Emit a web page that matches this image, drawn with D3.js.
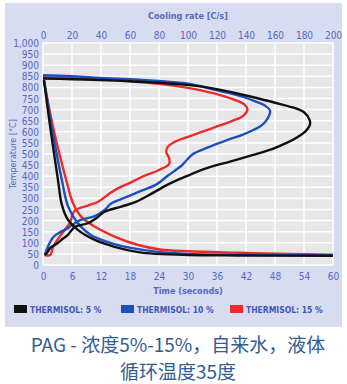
<!DOCTYPE html>
<html>
<head>
<meta charset="utf-8">
<script src="https://cdn.jsdelivr.net/npm/d3@7"></script>
<style>
  body { margin: 0; background: #fff; }
  svg { display: block; }
</style>
</head>
<body>
<svg id="chart" width="347" height="384"></svg>
<script>
// tick labels
const tempTicks = d3.range(0, 1001, 50);
const rateTicks = d3.range(0, 201, 20);
const timeTicks = d3.range(0, 61, 6);

// series names
const seriesNames = ['THERMISOL: 5 %', 'THERMISOL: 10 %', 'THERMISOL: 15 %'];
const seriesColors = ['#111111', '#1d4fbf', '#ee2b2b'];

// temperature vs time [s, °C]
const time5 = [[0.2,833],[1.5,620],[3.1,383],[3.8,280],[4.5,232],[5.2,203],[7.2,158],[10.7,113],[14.8,82],[19.7,58],[23.4,50],[30,45],[40,43],[60,42]];
const time10 = [[0.2,835],[1.9,610],[3.9,383],[5.2,263],[7.2,189],[9.9,135],[14.1,99],[18.2,77],[23.4,60],[30,50],[40,46],[50,44],[60,43]];
const time15 = [[0.2,828],[2.3,600],[4.8,383],[6.2,279],[7.9,218],[10.7,173],[14.8,128],[19.7,90],[24.2,70],[30.4,62],[40.8,55],[51,50],[60,46]];

// cooling rate vs temperature [°C/s, °C]
const rate5 = [[1,45],[3,56],[5,77],[10,98],[13,115],[17,135],[19.5,155],[22,172],[31,188],[37,212],[42.5,240],[54,263],[64,284],[74,318],[86,362],[99,400],[113,436],[129,466],[145,496],[158,522],[168,550],[176,578],[181,602],[184,630],[184,652],[180,688],[172,710],[160,731],[148,751],[131,777],[115,798],[101,810],[80,821],[60,828],[39,833],[20,837],[0,840]];
const rate10 = [[1.5,50],[3,77],[7,125],[12,149],[17,165],[19.5,178],[26,203],[35.6,220],[42.5,248],[47,277],[56,302],[68,335],[78,362],[86,402],[92,430],[96,450],[99,472],[103,498],[110,520],[118,541],[127,563],[137,585],[145,608],[151,630],[155,661],[156.6,695],[153,718],[146,738],[138,757],[128,775],[115,795],[101,816],[80,829],[60,837],[39,843],[20,850],[0,855]];
const rate15 = [[1,45],[5,45],[7,82],[11.5,128],[15,158],[18.4,189],[22,245],[31,268],[38,285],[45,318],[51,343],[60,370],[68,396],[80,428],[87,455],[87,482],[85,508],[86,532],[90,552],[99,575],[108,596],[120,624],[131,650],[138,672],[141,700],[139,722],[133,742],[124,762],[112,782],[100,798],[80,816],[60,828],[40,836],[20,841],[0,846]];

const timeSeries = [time5, time10, time15];
const rateSeries = [rate5, rate10, rate15];

const svg = d3.select('#chart');
const font = '"DejaVu Sans Condensed", "Liberation Sans Narrow", sans-serif';
const labelColor = '#5468c4';

const pLeft = 43, pRight = 333, pTop = 43, pBottom = 265;

// outer panel
svg.append('rect')
    .attr('x', 5).attr('y', 3)
    .attr('width', 337).attr('height', 324)
    .attr('fill', '#d8dcf0');

const y = d3.scaleLinear().domain([0, 1000]).range([pBottom, pTop]);
const xTime = d3.scaleLinear().domain([0, 60]).range([pLeft, pRight]);
const xRate = d3.scaleLinear().domain([0, 200]).range([pLeft, pRight]);

// plot area
svg.append('rect')
    .attr('x', pLeft).attr('y', pTop - 1)
    .attr('width', pRight - pLeft + 1).attr('height', pBottom - pTop + 2)
    .attr('fill', '#e7e7e9');

const grid = svg.append('g').attr('stroke', '#ffffff').attr('stroke-width', 1.5);
grid.selectAll('line.h').data(tempTicks).enter()
    .append('line')
    .attr('x1', pLeft).attr('x2', pRight)
    .attr('y1', d => y(d)).attr('y2', d => y(d));
grid.selectAll('line.v').data(rateTicks).enter()
    .append('line')
    .attr('y1', pTop).attr('y2', pBottom)
    .attr('x1', d => xRate(d)).attr('x2', d => xRate(d));

// axes (text only, no domain lines)
const yAxis = svg.append('g')
    .attr('transform', `translate(${pLeft - 4},0)`)
    .call(d3.axisLeft(y).tickValues(tempTicks).tickSize(0).tickPadding(0).tickFormat(d3.format(',')));
const topAxis = svg.append('g')
    .attr('transform', `translate(0,${pTop - 4})`)
    .call(d3.axisTop(xRate).tickValues(rateTicks).tickSize(0).tickPadding(0));
const bottomAxis = svg.append('g')
    .attr('transform', `translate(0,${pBottom + 8})`)
    .call(d3.axisBottom(xTime).tickValues(timeTicks).tickSize(0).tickPadding(0));

[yAxis, topAxis, bottomAxis].forEach(a => {
    a.select('.domain').remove();
    a.selectAll('text')
        .attr('fill', labelColor)
        .style('font-family', font)
        .style('font-size', '10px');
});
yAxis.selectAll('text').attr('dy', '0.35em');

// axis titles
svg.append('text')
    .attr('x', (pLeft + pRight) / 2).attr('y', 19)
    .attr('text-anchor', 'middle')
    .attr('fill', labelColor)
    .style('font-family', font).style('font-size', '9px').style('font-weight', 'bold')
    .text('Cooling rate [C/s]');

svg.append('text')
    .attr('x', (pLeft + pRight) / 2).attr('y', 294)
    .attr('text-anchor', 'middle')
    .attr('fill', labelColor)
    .style('font-family', font).style('font-size', '9px').style('font-weight', 'bold')
    .text('Time (seconds)');

svg.append('text')
    .attr('transform', `translate(16,${(pTop + pBottom) / 2}) rotate(-90)`)
    .attr('text-anchor', 'middle')
    .attr('fill', labelColor)
    .style('font-family', font).style('font-size', '9px')
    .text('Temperature [°C]');

// curves
const lineTime = d3.line()
    .x(d => xTime(d[0])).y(d => y(d[1]))
    .curve(d3.curveCatmullRom.alpha(0.5));
const lineRate = d3.line()
    .x(d => xRate(d[0])).y(d => y(d[1]))
    .curve(d3.curveCatmullRom.alpha(0.5));

const order = [2, 1, 0];
order.forEach(i => {
    svg.append('path')
        .attr('d', lineRate(rateSeries[i]))
        .attr('fill', 'none')
        .attr('stroke', seriesColors[i])
        .attr('stroke-width', 2.4);
    svg.append('path')
        .attr('d', lineTime(timeSeries[i]))
        .attr('fill', 'none')
        .attr('stroke', seriesColors[i])
        .attr('stroke-width', 2.4);
});

// legend
const legendX = [14, 121, 230];
const legend = svg.selectAll('g.legend').data(seriesNames).enter()
    .append('g')
    .attr('class', 'legend')
    .attr('transform', (d, i) => `translate(${legendX[i]},305)`);
legend.append('rect')
    .attr('width', 13).attr('height', 8)
    .attr('fill', (d, i) => seriesColors[i]);
legend.append('text')
    .attr('x', 16).attr('y', 7.5)
    .attr('fill', '#3f56b8')
    .style('font-family', font).style('font-size', '8.5px').style('font-weight', 'bold')
    .text(d => d);

// caption
const captionLines = ['PAG - 浓度5%-15%，自来水，液体', '循环温度35度'];
svg.selectAll('text.caption').data(captionLines).enter()
    .append('text')
    .attr('class', 'caption')
    .attr('x', 178)
    .attr('y', (d, i) => 352 + i * 27)
    .attr('text-anchor', 'middle')
    .attr('fill', '#335c90')
    .style('font-family', '"Noto Sans CJK SC", sans-serif')
    .style('font-size', '19px')
    .text(d => d);
</script>
</body>
</html>
